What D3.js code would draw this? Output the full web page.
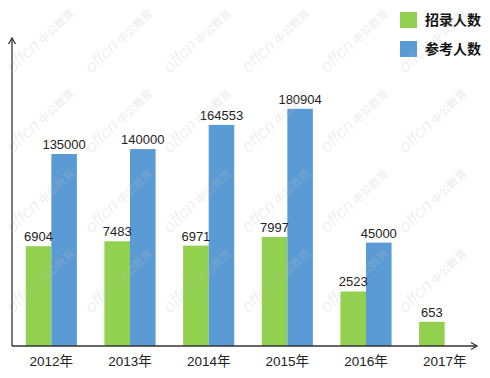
<!DOCTYPE html>
<html>
<head>
<meta charset="utf-8">
<script src="https://cdn.jsdelivr.net/npm/d3@7"></script>
<style>
  body { margin: 0; background: #fff; }
  text { font-family: "Liberation Sans", "Noto Sans CJK SC", sans-serif; }
</style>
</head>
<body>
<div id="chart"></div>
<script>
// data
var years = ["2012年", "2013年", "2014年", "2015年", "2016年", "2017年"],
    hired = [6904, 7483, 6971, 7997, 2523, 653],
    applicants = [135000, 140000, 164553, 180904, 45000, null],
    legend_names = ["招录人数", "参考人数"];

var width = 490,
    height = 378,
    axis_x = 12,
    base_y = 346,
    hired_color = "#92d050",
    appl_color = "#5b9bd5",
    axis_color = "#333";

var svg = d3.select("#chart").append("svg")
    .attr("width", width)
    .attr("height", height);

// watermark layer
var wm = svg.append("g").attr("class", "watermark");

// two value scales, one per series (bar heights in the source are not on one axis)
var x = d3.scaleBand()
    .domain(years)
    .range([axis_x, 484])
    .paddingInner(0.35)
    .paddingOuter(0.175);

var bw = x.bandwidth() / 2;

var yHired = d3.scalePow().exponent(0.6)
    .domain([0, 8000])
    .range([base_y, base_y - 109]);

// axis floor sits below zero, as in the source chart
var yAppl = d3.scaleLinear()
    .domain([-60000, 200000])
    .range([base_y, 90]);

var bars = svg.append("g");

bars.selectAll("rect.hired")
    .data(hired)
    .enter().append("rect")
    .attr("class", "hired")
    .attr("x", function(d, i) { return x(years[i]); })
    .attr("y", function(d) { return yHired(d); })
    .attr("width", bw)
    .attr("height", function(d) { return base_y - yHired(d); })
    .style("fill", hired_color);

var applData = applicants.map(function(d, i) { return {v: d, year: years[i]}; })
    .filter(function(d) { return d.v != null; });

bars.selectAll("rect.appl")
    .data(applData)
    .enter().append("rect")
    .attr("class", "appl")
    .attr("x", function(d) { return x(d.year) + bw; })
    .attr("y", function(d) { return yAppl(d.v); })
    .attr("width", bw)
    .attr("height", function(d) { return base_y - yAppl(d.v); })
    .style("fill", appl_color);

// value labels
bars.selectAll("text.hired")
    .data(hired)
    .enter().append("text")
    .attr("x", function(d, i) { return x(years[i]) + bw / 2; })
    .attr("y", function(d) { return yHired(d) - 5; })
    .attr("text-anchor", "middle")
    .style("font-size", "13px")
    .style("fill", "#222")
    .text(function(d) { return d; });

bars.selectAll("text.appl")
    .data(applData)
    .enter().append("text")
    .attr("x", function(d) { return x(d.year) + bw * 1.5; })
    .attr("y", function(d) { return yAppl(d.v) - 5; })
    .attr("text-anchor", "middle")
    .style("font-size", "13px")
    .style("fill", "#222")
    .text(function(d) { return d.v; });

// year labels
svg.append("g").selectAll("text")
    .data(years)
    .enter().append("text")
    .attr("x", function(d) { return x(d) + bw; })
    .attr("y", 366)
    .attr("text-anchor", "middle")
    .style("font-size", "13.5px")
    .style("fill", "#222")
    .text(function(d) { return d; });

// axes with open arrow heads
var axes = svg.append("g")
    .style("fill", "none")
    .style("stroke", axis_color)
    .style("stroke-width", 1.3);

axes.append("path").attr("d", "M" + axis_x + "," + base_y + "V38");
axes.append("path").attr("d", "M" + (axis_x - 3.5) + ",44L" + axis_x + ",38L" + (axis_x + 3.5) + ",44");
axes.append("path").attr("d", "M" + axis_x + "," + base_y + "H477");
axes.append("path").attr("d", "M471," + (base_y - 3.5) + "L477," + base_y + "L471," + (base_y + 3.5));

// legend
var legend = svg.append("g").selectAll("g")
    .data(legend_names)
    .enter().append("g")
    .attr("transform", function(d, i) { return "translate(400," + (12 + i * 29) + ")"; });

legend.append("rect")
    .attr("width", 17)
    .attr("height", 16)
    .style("fill", function(d, i) { return i === 0 ? hired_color : appl_color; });

legend.append("text")
    .attr("x", 25)
    .attr("y", 8)
    .attr("dy", "0.36em")
    .style("font-family", "'Noto Sans CJK SC', sans-serif")
    .style("font-size", "14px")
    .style("font-weight", "bold")
    .style("fill", "#111")
    .text(function(d) { return d; });

// tiled watermark, drawn on top
wm.raise();
for (var r = 0; r < 4; r++) {
    for (var c = 0; c < 6; c++) {
        var t = wm.append("text")
            .attr("transform", "translate(" + (40 + c * 78.5) + "," + (40 + r * 80) + ") rotate(-44)")
            .attr("text-anchor", "middle")
            .attr("dy", "0.35em")
            .style("fill", "#bdbdbd")
            .style("fill-opacity", 0.22);
        t.append("tspan")
            .style("font-size", "18px")
            .style("font-style", "italic")
            .text("offcn");
        t.append("tspan")
            .attr("dx", 3)
            .style("font-family", "'Noto Sans CJK SC', sans-serif")
            .style("font-size", "11px")
            .style("font-weight", "bold")
            .text("中公教育");
    }
}
</script>
</body>
</html>
